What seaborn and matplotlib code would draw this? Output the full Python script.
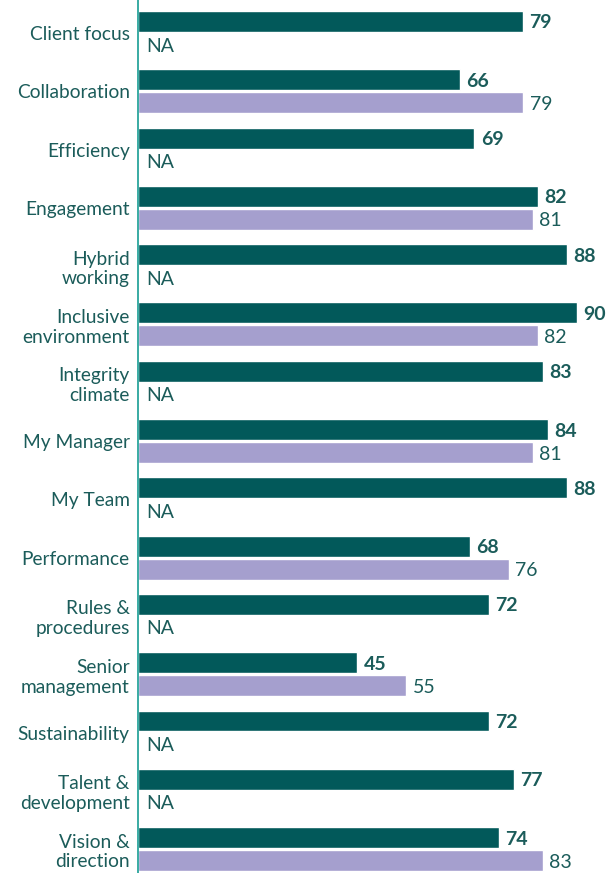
import numpy as np
import pandas as pd
import matplotlib
matplotlib.use("Agg")
import matplotlib.pyplot as plt
import seaborn as sns

categories = ["Client focus", "Collaboration", "Efficiency", "Engagement", "Hybrid\nworking",
              "Inclusive\nenvironment", "Integrity\nclimate", "My Manager", "My Team",
              "Performance", "Rules &\nprocedures", "Senior\nmanagement", "Sustainability",
              "Talent &\ndevelopment", "Vision &\ndirection"]
current = [79, 66, 69, 82, 88, 90, 83, 84, 88, 68, 72, 45, 72, 77, 74]
previous = [np.nan, 79, np.nan, 81, np.nan, 82, np.nan, 81, np.nan, 76, np.nan, 55, np.nan, np.nan, 83]
series_names = ["Current", "Previous"]

DARK = "#02595A"
LAV = "#A59FCE"
TXT = "#1B5C5A"
SPINE = "#2AA59C"

df = pd.DataFrame({
    "category": categories * 2,
    "series": [series_names[0]] * len(categories) + [series_names[1]] * len(categories),
    "value": current + previous,
})

sns.set_style("white")
plt.rcParams["font.family"] = ["Lato", "DejaVu Sans"]

fig = plt.figure(figsize=(6.13, 8.73), dpi=100)
ax = fig.add_axes([138 / 613, 0, 1 - 138 / 613, 1])

sns.barplot(data=df, x="value", y="category", hue="series", order=categories,
            hue_order=series_names, palette=[DARK, LAV], width=0.79, gap=0.09,
            orient="h", legend=False, ax=ax, saturation=1, errorbar=None)

ax.set_xlim(0, 97.4)
ax.set_ylim(14.41, -0.566)
ax.set_xlabel("")
ax.set_ylabel("")
ax.set_xticks([])
for s in ["top", "right", "bottom"]:
    ax.spines[s].set_visible(False)
ax.spines["left"].set_color(SPINE)
ax.spines["left"].set_linewidth(1.3)
ax.tick_params(axis="y", length=0, pad=6, labelsize=13.8, labelcolor=TXT)
for lab in ax.get_yticklabels():
    lab.set_linespacing(1.2)

# value labels from patches
offsets = {}
for ci, cont in enumerate(ax.containers):
    for p in cont.patches:
        w = p.get_width()
        if np.isnan(w):
            continue
        yc = p.get_y() + p.get_height() / 2
        offsets[ci] = yc - round(yc)
        ax.text(w + 1.3, yc, f"{w:.0f}", va="center_baseline", ha="left", color=TXT,
                fontsize=14, fontweight="bold" if ci == 0 else "normal")

off = offsets.get(1, 0.2)
for i, v in enumerate(previous):
    if np.isnan(v):
        ax.text(1.7, i + off, "NA", va="center_baseline", ha="left", color=TXT, fontsize=14)

fig.savefig("out.png", dpi=100)
